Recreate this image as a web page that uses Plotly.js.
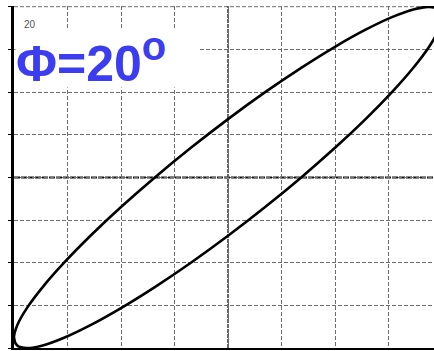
<!DOCTYPE html>
<html>
<head>
<meta charset="utf-8">
<script src="https://cdn.plot.ly/plotly-3.0.1.min.js"></script>
<style>html,body{margin:0;padding:0;background:#fff;}#chart{width:434px;height:351px;}</style>
</head>
<body>
<div id="chart"></div>
<script>
// Lissajous trace points (X and Y channel, in divisions)
const xValues = [0, 0.694, 1.368, 2.0, 2.571, 3.064, 3.464, 3.759, 3.939, 4.0, 3.939, 3.759, 3.464, 3.064, 2.571, 2.0, 1.368, 0.694,
  0, -0.694, -1.368, -2.0, -2.571, -3.064, -3.464, -3.759, -3.939, -4.0, -3.939, -3.759, -3.464, -3.064, -2.571, -2.0, -1.368, -0.694, 0];
const yValues = [1.368, 2.0, 2.571, 3.064, 3.464, 3.759, 3.939, 4.0, 3.939, 3.759, 3.464, 3.064, 2.571, 2.0, 1.368, 0.694, 0, -0.694,
  -1.368, -2.0, -2.571, -3.064, -3.464, -3.759, -3.939, -4.0, -3.939, -3.759, -3.464, -3.064, -2.571, -2.0, -1.368, -0.694, 0, 0.694, 1.368];
const titleText = "Φ=20<sup><span style='font-size:40px'>o</span></sup>";
const cornerLabel = "20";

const trace = {
  x: xValues, y: yValues, mode: 'lines', type: 'scatter',
  line: {color: '#000', width: 2.6, shape: 'spline', smoothing: 1},
  hoverinfo: 'skip'
};

const grid = {gridcolor: '#6e6e6e', gridwidth: 1, griddash: '4px,2px'};

const layout = {
  width: 434, height: 351,
  margin: {l: 14, r: 0, t: 6, b: 3, pad: 0},
  paper_bgcolor: '#fff', plot_bgcolor: '#fff',
  showlegend: false,
  xaxis: Object.assign({range: [-4, 3.85], dtick: 1, tick0: 0, showticklabels: false,
    zeroline: false, showline: true, linecolor: '#000', linewidth: 2, ticks: '', fixedrange: true}, grid),
  yaxis: Object.assign({range: [-4, 4.02], dtick: 1, tick0: 0, showticklabels: false,
    zeroline: false, showline: true, linecolor: '#000', linewidth: 3, ticks: 'outside', ticklen: 3, tickcolor: '#000', tickwidth: 1, fixedrange: true}, grid),
  shapes: [
    {type: 'line', xref: 'paper', x0: 0, x1: 1, yref: 'paper', y0: 0.998, y1: 0.998, line: {color: '#6e6e6e', width: 1, dash: '4px,2px'}, layer: 'below'},
    {type: 'line', xref: 'paper', x0: 0, x1: 1, yref: 'y', y0: 0, y1: 0, line: {color: '#111', width: 2, dash: '6px,1px'}, layer: 'below'},
    {type: 'line', xref: 'x', x0: 0, x1: 0, yref: 'paper', y0: 0, y1: 1, line: {color: '#333', width: 1.5, dash: '4px,1px'}, layer: 'below'}
  ],
  annotations: [
    {text: titleText, xref: 'paper', yref: 'paper', x: 0.003, y: 0.935, xanchor: 'left', yanchor: 'top',
     showarrow: false, bgcolor: '#fff', width: 182, height: 58, align: 'left', valign: 'middle', borderpad: 0,
     font: {family: 'Liberation Sans, Arial, sans-serif', size: 50, color: '#3c3cf0', weight: 'bold'}},
    {text: cornerLabel, xref: 'paper', yref: 'paper', x: 0.02, y: 0.945, xanchor: 'left', yanchor: 'middle',
     showarrow: false, font: {family: 'Liberation Sans, Arial, sans-serif', size: 10, color: '#555'}}
  ]
};

Plotly.newPlot('chart', [trace], layout, {displayModeBar: false, staticPlot: true});
</script>
</body>
</html>
